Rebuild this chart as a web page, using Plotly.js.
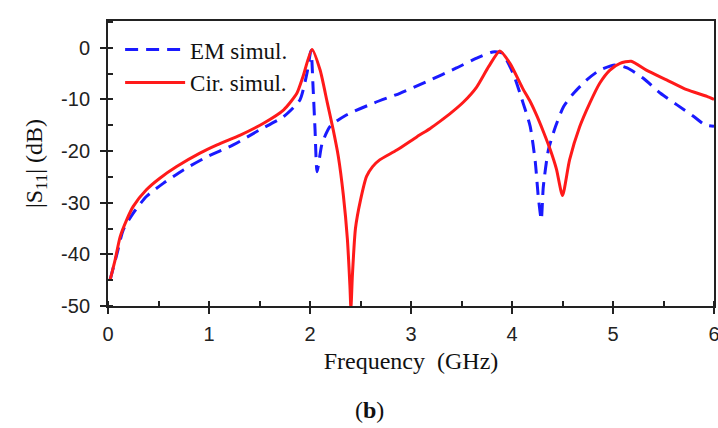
<!DOCTYPE html>
<html>
<head>
<meta charset="utf-8">
<script src="https://cdn.plot.ly/plotly-3.0.1.min.js"></script>
<style>html,body{margin:0;padding:0;background:#fff;}#chart{width:718px;height:428px;}</style>
</head>
<body>
<div id="chart"></div>
<script>
// EM simulation (blue dashed)
const emFreq = [0.02,0.09,0.15,0.25,0.38,0.55,0.75,0.98,1.24,1.50,1.74,1.90,1.97,2.01,2.03,2.05,2.07,2.12,2.20,2.36,2.63,2.89,3.16,3.45,3.65,3.81,3.90,4.01,4.11,4.18,4.23,4.26,4.29,4.31,4.36,4.43,4.51,4.61,4.74,4.87,5.02,5.14,5.30,5.47,5.63,5.80,5.91,6.0];
const emS11 = [-45,-39.8,-35.3,-32,-28.8,-26.2,-23.6,-21.1,-18.8,-15.9,-13.3,-10.1,-4.9,-0.5,-7.5,-15.9,-24,-18.5,-15.2,-13,-10.7,-8.8,-6.5,-3.9,-2.0,-0.8,-1.0,-4.9,-10.7,-15.2,-22.0,-28.8,-33.3,-26.9,-19.8,-15.3,-11.4,-8.8,-6.2,-4.3,-3.3,-3.9,-5.9,-8.8,-11,-13.3,-14.9,-15.2];
// Circuit simulation (red solid)
const cirFreq = [0.02,0.07,0.12,0.185,0.25,0.38,0.51,0.68,0.91,1.08,1.31,1.54,1.74,1.87,1.93,2.02,2.10,2.17,2.23,2.28,2.33,2.37,2.395,2.405,2.42,2.45,2.50,2.56,2.62,2.69,2.86,3.06,3.19,3.29,3.39,3.52,3.65,3.77,3.88,3.98,4.11,4.18,4.24,4.31,4.38,4.44,4.50,4.57,4.67,4.77,4.87,4.97,5.07,5.18,5.33,5.53,5.73,5.93,6.0];
const cirS11 = [-45,-41.1,-36.6,-33.3,-30.7,-27.5,-25.3,-23.0,-20.4,-18.8,-16.9,-14.6,-12.0,-8.8,-5.6,-0.3,-4.3,-10.5,-15.9,-21,-28.5,-37,-46,-50.5,-44,-35,-29.5,-24.9,-23,-21.7,-19.8,-17.2,-15.6,-14.2,-12.7,-10.5,-7.6,-3.6,-0.6,-3.0,-8.0,-10.4,-12.9,-16.2,-19.8,-23.5,-28.6,-21.7,-15.3,-10.7,-6.8,-4.3,-3.0,-2.6,-4.3,-6.2,-8.1,-9.4,-10];
const seriesNames = ['EM simul.', 'Cir. simul.'];
const xTicks = [0,1,2,3,4,5,6];
const yTicks = [0,-10,-20,-30,-40,-50];

const serif = 'Liberation Serif, Times New Roman, serif';
const sans = 'Liberation Sans, Arial, sans-serif';

const traces = [
  {x: emFreq, y: emS11, name: seriesNames[0], mode: 'lines', type: 'scatter',
   line: {color: '#1a1aff', width: 3, dash: '13px,8px', shape: 'spline', smoothing: 0.6}},
  {x: cirFreq, y: cirS11, name: seriesNames[1], mode: 'lines', type: 'scatter',
   line: {color: '#ff1a1a', width: 3, shape: 'spline', smoothing: 0.6}}
];

const layout = {
  width: 718, height: 428,
  margin: {l: 108, r: 4, t: 21, b: 122},
  paper_bgcolor: '#ffffff', plot_bgcolor: '#ffffff',
  showlegend: true,
  legend: {x: 0.02, y: 0.975, xanchor: 'left', yanchor: 'top', bgcolor: 'rgba(0,0,0,0)',
    font: {family: serif, size: 23, color: '#111'}, itemwidth: 60, tracegroupgap: 0},
  xaxis: {range: [0, 6], tickvals: xTicks, ticktext: xTicks.map(String),
    ticks: 'outside', ticklen: 6, tickwidth: 2, tickcolor: '#222', ticklabelstandoff: 3,
    ticklabeloverflow: 'allow',
    minor: {dtick: 0.5, ticks: 'inside', ticklen: 5, tickwidth: 2, tickcolor: '#222'},
    showline: true, linecolor: '#222', linewidth: 2, mirror: true, showgrid: false, zeroline: false,
    tickfont: {family: sans, size: 20, color: '#222'},
    title: {text: 'Frequency\u00A0\u00A0(GHz)', font: {family: serif, size: 24, color: '#111'}, standoff: 8}},
  yaxis: {range: [-50, 5.2], tickvals: yTicks, ticktext: yTicks.map(String),
    ticks: 'outside', ticklen: 6, tickwidth: 2, tickcolor: '#222', ticklabelstandoff: 6,
    minor: {dtick: 5, ticks: 'inside', ticklen: 5, tickwidth: 2, tickcolor: '#222'},
    showline: true, linecolor: '#222', linewidth: 2, mirror: true, showgrid: false, zeroline: false,
    tickfont: {family: sans, size: 20, color: '#222'},
    title: {text: '|S<sub>11</sub>| (dB)', font: {family: serif, size: 24, color: '#111'}, standoff: 12}},
  annotations: [{text: '(<b>b</b>)', xref: 'paper', yref: 'paper', x: 0.432, y: -0.365,
    yanchor: 'middle', xanchor: 'center',
    showarrow: false, font: {family: serif, size: 24, color: '#111'}}]
};

Plotly.newPlot('chart', traces, layout, {displayModeBar: false, staticPlot: true});
</script>
</body>
</html>
